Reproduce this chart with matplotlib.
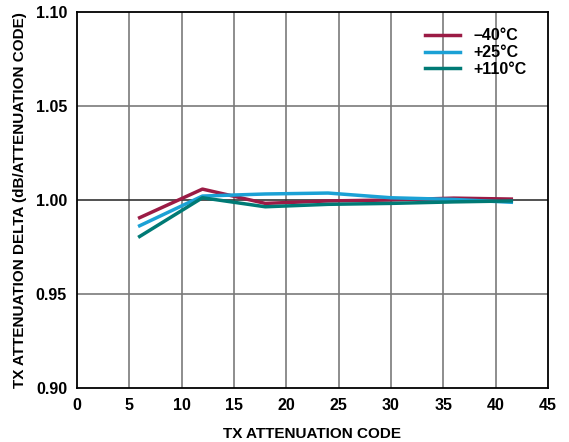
import matplotlib
matplotlib.use("Agg")
import matplotlib.pyplot as plt

plt.rcParams['font.family'] = ['Liberation Sans', 'DejaVu Sans']
plt.rcParams['font.weight'] = 'bold'

# attenuation codes where each curve was measured
codes = [6, 12, 18, 24, 30, 36, 41.5]

# attenuation delta per temperature
delta_m40 = [0.9906, 1.0058, 0.9982, 0.9995, 1.0000, 1.0010, 1.0005]
delta_p25 = [0.9863, 1.0021, 1.0032, 1.0037, 1.0012, 1.0003, 0.9988]
delta_p110 = [0.9806, 1.0012, 0.9964, 0.9977, 0.9982, 0.9990, 0.9995]

labels = ['\u201340\u00b0C', '+25\u00b0C', '+110\u00b0C']
colors = ['#9B1B45', '#1BA1D5', '#007A75']

fig = plt.figure(figsize=(5.69, 4.42), dpi=100)
ax = fig.add_axes([0.135, 0.122, 0.828, 0.851])

for ys, lab, col in zip([delta_m40, delta_p25, delta_p110], labels, colors):
    ax.plot(codes, ys, '-', color=col, linewidth=2.5, label=lab)

ax.set_xlim(0, 45)
ax.set_ylim(0.90, 1.10)
ax.set_xticks(range(0, 46, 5))
ax.set_yticks([0.90, 0.95, 1.00, 1.05, 1.10])
ax.set_yticklabels(['0.90', '0.95', '1.00', '1.05', '1.10'])

# grid lines, the 1.00 one darker
for x in range(5, 45, 5):
    ax.axvline(x, color='#7a7a7a', linewidth=1.2, zorder=0)
for y in [0.95, 1.05]:
    ax.axhline(y, color='#7a7a7a', linewidth=1.2, zorder=0)
ax.axhline(1.00, color='#333333', linewidth=1.2, zorder=0)

ax.tick_params(length=0, labelsize=11.5, pad=7)
for s in ax.spines.values():
    s.set_linewidth(1.3)

ax.set_xlabel('TX ATTENUATION CODE', fontsize=11, fontweight='bold', labelpad=10)
ax.set_ylabel('TX ATTENUATION DELTA (dB/ATTENUATION CODE)', fontsize=11,
              fontweight='bold', labelpad=6)

ax.legend(loc='upper right', bbox_to_anchor=(0.985, 0.995), frameon=False,
          fontsize=11.5, handlelength=2.2, labelspacing=0.12)

fig.savefig('out.png', dpi=100)
